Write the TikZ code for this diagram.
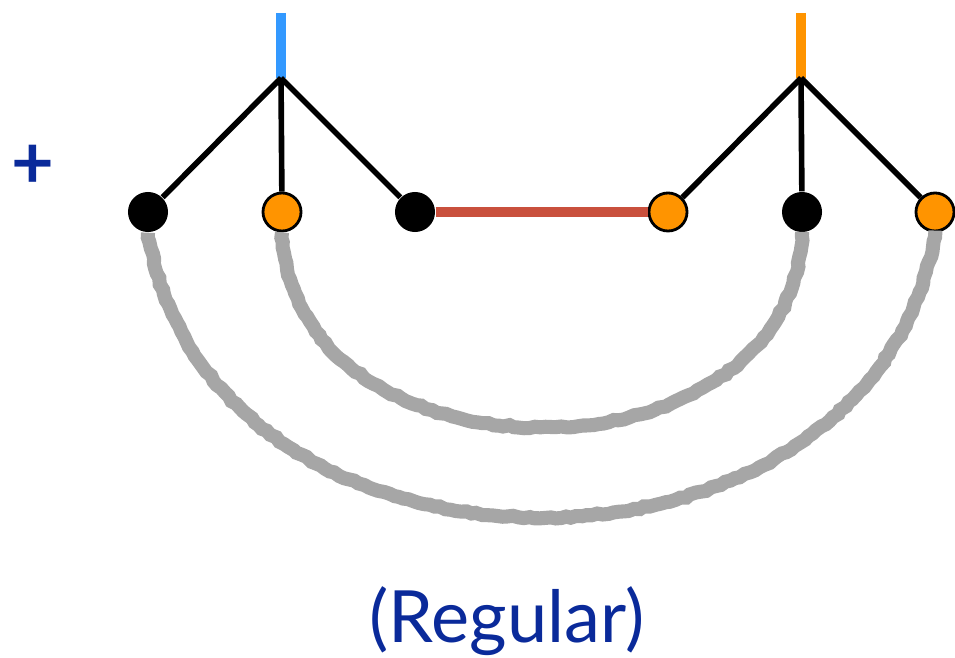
\documentclass[tikz,border=0pt]{standalone}
\usepackage{fontspec}
\setmainfont{Lato}
\usetikzlibrary{decorations.pathmorphing}

\definecolor{chalk}{HTML}{A6A6A6}
\definecolor{dotorange}{HTML}{FF9400}
\definecolor{legblue}{HTML}{3399FF}
\definecolor{bondred}{HTML}{C9503D}
\definecolor{capblue}{HTML}{0A2A9A}

\tikzset{
  blackdot/.style={circle, fill=black, inner sep=0pt, minimum size=0.4cm},
  orangedot/.style={circle, fill=dotorange, draw=black, line width=0.8pt, inner sep=0pt, minimum size=0.38cm},
  leg/.style={line width=1.6pt, black},
  chalkline/.style={line width=4pt, chalk, decorate, decoration={random steps, segment length=1.5pt, amplitude=0.3pt}},
  captext/.style={font=\fontsize{20.5}{24}\selectfont, text=capblue},
}

\begin{document}
\begin{tikzpicture}[x=0.01cm, y=-0.01cm]

    \useasboundingbox (0,0) rectangle (955,658);

    %%%%%%%%%%%%%%%%%%%%%%%%%%
    % left vertex
    %%%%%%%%%%%%%%%%%%%%%%%%%%
    \coordinate (hubL) at (281,78);
    \coordinate (tipL) at (281,13);
    \node [blackdot] (l1) at (148,212) {};
    \node [orangedot] (l2) at (282,212) {};
    \node [blackdot] (l3) at (415,212) {};

    \draw [line width=2.9pt, legblue] (tipL) -- (hubL);
    \draw [leg] (hubL) -- (l1);
    \draw [leg] (hubL) -- (l2);
    \draw [leg] (hubL) -- (l3);

    %%%%%%%%%%%%%%%%%%%%%%%%%%
    % right vertex
    %%%%%%%%%%%%%%%%%%%%%%%%%%
    \coordinate (hubR) at (801,78);
    \coordinate (tipR) at (801,13);
    \node [orangedot] (r1) at (668,212) {};
    \node [blackdot] (r2) at (802,212) {};
    \node [orangedot] (r3) at (935,212) {};

    \draw [line width=2.9pt, dotorange] (tipR) -- (hubR);
    \draw [leg] (hubR) -- (r1);
    \draw [leg] (hubR) -- (r2);
    \draw [leg] (hubR) -- (r3);

    % bond between the vertices
    \draw [line width=2.6pt, bondred] (l3) -- (r1);

    %%%%%%%%%%%%%%%%%%%%%%%%%%
    % contractions
    %%%%%%%%%%%%%%%%%%%%%%%%%%
    \draw [chalkline] (l1.south) .. controls +(60,380) and +(-60,380) .. (r3.south);
    \draw [chalkline] (l2.south) .. controls +(10,260) and +(-10,260) .. (r2.south);

    % labels
    \node [captext, font=\fontsize{21}{24}\bfseries] (plus) at (33,167) {+};
    \node [captext, anchor=base] (caption) at (507,642) {(Regular)};

\end{tikzpicture}
\end{document}
